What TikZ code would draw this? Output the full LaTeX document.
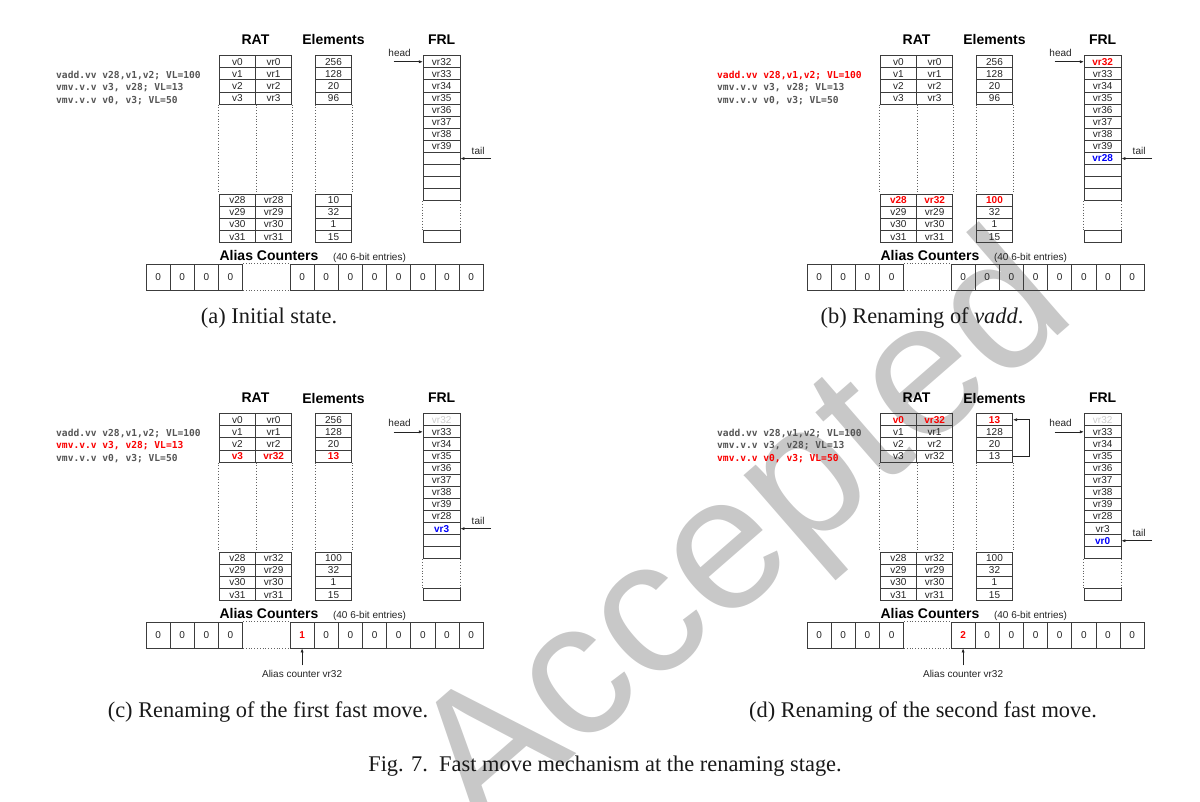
\documentclass[tikz,border=0pt]{standalone}
\usepackage{fontspec}
\usetikzlibrary{arrows.meta}
\newfontfamily\tabfont{Liberation Sans}
\newfontfamily\codefont{DejaVu Sans Mono}
\newfontfamily\captfont{Liberation Serif}
\definecolor{hlred}{RGB}{250,0,0}
\definecolor{hlblue}{RGB}{0,0,250}
\definecolor{codegray}{RGB}{85,85,85}
\definecolor{lightgr}{RGB}{205,205,205}
\definecolor{wmgray}{RGB}{200,200,200}
\definecolor{linecol}{RGB}{60,60,60}
\definecolor{txtcol}{RGB}{35,35,35}
\tikzset{
  cell/.style={draw=linecol, line width=0.85pt, minimum width=36.2pt, minimum height=12.1pt,
    inner sep=0pt, text=txtcol, font=\tabfont\fontsize{10}{10}\selectfont},
  fcell/.style={cell, minimum width=36.7pt},
  acell/.style={cell, minimum width=24.15pt, minimum height=25.7pt},
  txtn/.style={},
  txthl/.style={text=hlred, font=\tabfont\bfseries\fontsize{10}{10}\selectfont},
  txtbl/.style={text=hlblue, font=\tabfont\bfseries\fontsize{10}{10}\selectfont},
  txtgr/.style={text=lightgr},
  dotline/.style={draw=linecol!80, line width=0.8pt, dotted},
  ttl/.style={font=\tabfont\bfseries\fontsize{14}{14}\selectfont, text=black, inner sep=0pt},
  lbl/.style={font=\tabfont\fontsize{10}{10}\selectfont, text=txtcol, inner sep=0pt},
  code/.style={anchor=west, inner sep=0pt, text=codegray, font=\codefont\bfseries\fontsize{9.6}{10}\selectfont},
  codehl/.style={text=hlred},
  coden/.style={},
  arr/.style={draw=txtcol, line width=0.7pt, -{Latex[length=4pt,width=3.2pt]}},
  capt/.style={font=\captfont\fontsize{22.4}{24}\selectfont, text=black!90, inner sep=0pt},
  wm/.style={rotate=41, text=wmgray, inner sep=0pt, font=\tabfont\fontsize{190}{190}\selectfont}
}
% #1 id, #2 RAT top, #3 RAT bottom, #4 Elements top, #5 Elements bottom, #6 FRL list, #7 first empty FRL row
\newcommand{\tables}[7]{%
  \node[ttl] (#1-tRAT) at (255.5,40) {RAT};
  \node[ttl] (#1-tEL) at (333.5,40) {Elements};
  \node[ttl] (#1-tFRL) at (441.65,40) {FRL};
  \foreach \a/\b/\s [count=\k] in {#2} {
    \node[cell,\s] (#1-rl\k) at (237.4,{49.65+12.1*\k}) {\a};
    \node[cell,\s] (#1-rr\k) at (273.6,{49.65+12.1*\k}) {\b};
  }
  \foreach \a/\b/\s [count=\k] in {#3} {
    \node[cell,\s] (#1-rlb\k) at (237.4,{188.25+12.1*\k}) {\a};
    \node[cell,\s] (#1-rrb\k) at (273.6,{188.25+12.1*\k}) {\b};
  }
  \foreach \a/\s [count=\k] in {#4} {
    \node[cell,\s] (#1-et\k) at (333.5,{49.65+12.1*\k}) {\a};
  }
  \foreach \a/\s [count=\k] in {#5} {
    \node[cell,\s] (#1-eb\k) at (333.5,{188.25+12.1*\k}) {\a};
  }
  \foreach \a/\s [count=\k] in {#6} {
    \node[fcell,\s] (#1-f\k) at (441.65,{49.65+12.1*\k}) {\a};
  }
  \foreach \k in {#7,...,12} {
    \node[fcell] (#1-f\k) at (441.65,{49.65+12.1*\k}) {};
  }
  \node[fcell] (#1-flast) at (441.65,236.65) {};
  \draw[dotline] (#1-rl4.south west) -- (#1-rlb1.north west);
  \draw[dotline] (#1-rl4.south east) -- (#1-rlb1.north east);
  \draw[dotline] (#1-rr4.south east) -- (#1-rrb1.north east);
  \draw[dotline] (#1-et4.south west) -- (#1-eb1.north west);
  \draw[dotline] (#1-et4.south east) -- (#1-eb1.north east);
  \draw[dotline] (#1-f12.south west) -- (#1-flast.north west);
  \draw[dotline] (#1-f12.south east) -- (#1-flast.north east);
}
% #1 id, #2 alias value, #3 alias style, #4 head row, #5 tail row, #6 #7 #8 instruction styles
\newcommand{\extras}[8]{%
  \node[code,#6] (#1-i1) at (56,75.7) {vadd.vv v28,v1,v2; VL=100};
  \node[code,#7] (#1-i2) at (56,88) {vmv.v.v v3, v28; VL=13};
  \node[code,#8] (#1-i3) at (56,100.2) {vmv.v.v v0, v3; VL=50};
  \node[ttl, anchor=base] (#1-actitle) at (269,260.5) {Alias Counters};
  \node[lbl, anchor=base] (#1-acsub) at (369.5,260.5) {(40 6-bit entries)};
  \foreach \k in {1,...,4} {
    \node[acell] (#1-a\k) at ({133.925+24.15*\k},277.15) {0};
  }
  \node[acell,#3] (#1-b1) at (302.1,277.15) {#2};
  \foreach \k in {2,...,8} {
    \node[acell] (#1-b\k) at ({277.95+24.15*\k},277.15) {0};
  }
  \draw[dotline] (#1-a4.north east) -- (#1-b1.north west);
  \draw[dotline] (#1-a4.south east) -- (#1-b1.south west);
  \coordinate (#1-hs) at ([xshift=-29.3pt]#1-f#4.west);
  \draw[arr] (#1-hs) -- (#1-f#4.west);
  \node[lbl] (#1-head) at ([xshift=6pt,yshift=8.8pt]#1-hs) {head};
  \coordinate (#1-ts) at ([xshift=30.7pt]#1-f#5.east);
  \draw[arr] (#1-ts) -- (#1-f#5.east);
  \node[lbl] (#1-tail) at ([xshift=-13pt,yshift=8pt]#1-ts) {tail};
}
\begin{document}
\begin{tikzpicture}[x=1pt,y=-1pt]
\useasboundingbox (0,0) rectangle (1200,802);
\node[wm] (wm) at (748,540) {Accepted};

% (a)
\begin{scope}
\tables{a}{v0/vr0/txtn,v1/vr1/txtn,v2/vr2/txtn,v3/vr3/txtn}
  {v28/vr28/txtn,v29/vr29/txtn,v30/vr30/txtn,v31/vr31/txtn}
  {256/txtn,128/txtn,20/txtn,96/txtn}{10/txtn,32/txtn,1/txtn,15/txtn}
  {vr32/txtn,vr33/txtn,vr34/txtn,vr35/txtn,vr36/txtn,vr37/txtn,vr38/txtn,vr39/txtn}{9}
\extras{a}{0}{txtn}{1}{9}{coden}{coden}{coden}
\end{scope}

% (b)
\begin{scope}[shift={(661,0)}]
\tables{b}{v0/vr0/txtn,v1/vr1/txtn,v2/vr2/txtn,v3/vr3/txtn}
  {v28/vr32/txthl,v29/vr29/txtn,v30/vr30/txtn,v31/vr31/txtn}
  {256/txtn,128/txtn,20/txtn,96/txtn}{100/txthl,32/txtn,1/txtn,15/txtn}
  {vr32/txthl,vr33/txtn,vr34/txtn,vr35/txtn,vr36/txtn,vr37/txtn,vr38/txtn,vr39/txtn,vr28/txtbl}{10}
\extras{b}{0}{txtn}{1}{9}{codehl}{coden}{coden}
\end{scope}

% (c)
\begin{scope}[shift={(0,358)}]
\tables{c}{v0/vr0/txtn,v1/vr1/txtn,v2/vr2/txtn,v3/vr32/txthl}
  {v28/vr32/txtn,v29/vr29/txtn,v30/vr30/txtn,v31/vr31/txtn}
  {256/txtn,128/txtn,20/txtn,13/txthl}{100/txtn,32/txtn,1/txtn,15/txtn}
  {vr32/txtgr,vr33/txtn,vr34/txtn,vr35/txtn,vr36/txtn,vr37/txtn,vr38/txtn,vr39/txtn,vr28/txtn,vr3/txtbl}{11}
\extras{c}{1}{txthl}{2}{10}{coden}{codehl}{coden}
\coordinate (c-acs) at ([yshift=-17pt]c-b1.south);
\draw[arr] (c-acs) -- (c-b1.south);
\node[lbl] (c-acl) at ([yshift=-8.3pt]c-acs) {Alias counter vr32};
\end{scope}

% (d)
\begin{scope}[shift={(661,358)}]
\tables{d}{v0/vr32/txthl,v1/vr1/txtn,v2/vr2/txtn,v3/vr32/txtn}
  {v28/vr32/txtn,v29/vr29/txtn,v30/vr30/txtn,v31/vr31/txtn}
  {13/txthl,128/txtn,20/txtn,13/txtn}{100/txtn,32/txtn,1/txtn,15/txtn}
  {vr32/txtgr,vr33/txtn,vr34/txtn,vr35/txtn,vr36/txtn,vr37/txtn,vr38/txtn,vr39/txtn,vr28/txtn,vr3/txtn,vr0/txtbl}{12}
\extras{d}{2}{txthl}{2}{11}{coden}{coden}{codehl}
\coordinate (d-acs) at ([yshift=-17pt]d-b1.south);
\draw[arr] (d-acs) -- (d-b1.south);
\node[lbl] (d-acl) at ([yshift=-8.3pt]d-acs) {Alias counter vr32};
\draw[arr] (d-et4.east) -- ++(16.6,0) |- (d-et1.east);
\end{scope}

% captions
\node[capt] (capa) at (269,318) {(a) Initial state.};
\node[capt] (capb) at (922,318) {(b) Renaming of \textit{vadd}.};
\node[capt] (capc) at (268,712) {(c) Renaming of the first fast move.};
\node[capt] (capd) at (923,712) {(d) Renaming of the second fast move.};
\node[capt] (capfig) at (605,766) {Fig. 7.\ \ Fast move mechanism at the renaming stage.};
\end{tikzpicture}
\end{document}
